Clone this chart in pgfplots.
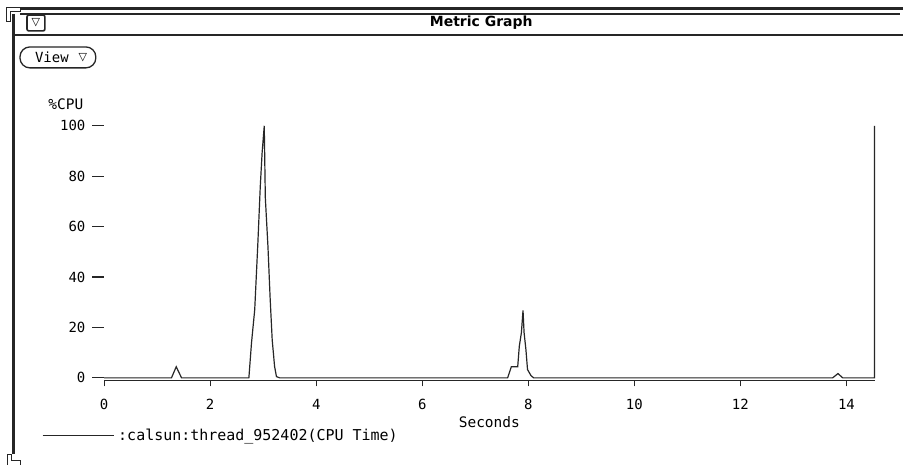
\documentclass[border=0pt]{standalone}
\usepackage{fontspec}
\usepackage{pgfplots}
\pgfplotsset{compat=1.18}
\newfontfamily\mono{DejaVu Sans Mono}
\newfontfamily\symf{DejaVu Sans}
\newfontfamily\titlef{DejaVu Sans}
\definecolor{Ink}{HTML}{262626}

\begin{document}
\begin{tikzpicture}[x=1pt,y=1pt]
\fill[white] (0,0) rectangle (904,466);
% window frame
\draw[line width=3pt,Ink] (20,457) -- (904,457);
\draw[line width=1.8pt,Ink] (20,451.7) -- (901,451.7);
\draw[line width=2pt,Ink] (15,430.5) -- (904,430.5);
\draw[line width=3pt,Ink] (13.2,452) -- (13.2,11);
\draw[line width=1pt,Ink,fill=white] (7,444) -- (7,458) -- (21,458) -- (21,454) -- (11,454) -- (11,444) -- cycle;
\draw[line width=1pt,Ink,fill=white] (21,0) -- (21,5) -- (12,5) -- (12,11) -- (8,11) -- (8,0);
% menu button
\draw[line width=1.6pt,Ink,fill=white,rounded corners=2pt] (27,451) rectangle (45,435);
\node[font=\symf\fontsize{11}{11}\selectfont,inner sep=0pt] at (36,443) {▽};
% view button
\draw[line width=1.3pt,Ink,rounded corners=10pt] (20,419) rectangle (96,398);
\node[font=\mono\fontsize{14}{14}\selectfont,inner sep=0pt] at (52,408.5) {View};
\node[font=\symf\fontsize{11}{11}\selectfont,inner sep=0pt] at (83,408.5) {▽};
% title
\node[font=\titlef\bfseries\fontsize{14}{14}\selectfont,inner sep=0pt] at (482,443.5) {Metric Graph};
% y label
\node[font=\mono\fontsize{14.5}{14.5}\selectfont,inner sep=0pt] at (66,362) {\%CPU};

\begin{axis}[at={(104.3pt,85pt)},anchor=south west,scale only axis,
  width=771.7pt,height=255pt,
  xmin=0,xmax=14.53,ymin=-1,ymax=100,
  axis x line*=bottom,axis y line*=left,
  y axis line style={draw=none},
  x axis line style={line width=1.3pt,Ink},
  xtick={0,2,...,14},ytick={0,20,...,100},
  tick align=outside,
  xtick style={line width=1.2pt,Ink,/pgfplots/major tick length=6pt},
  ytick style={line width=1.2pt,Ink,/pgfplots/major tick length=12pt},
  /pgf/number format/assume math mode=true,
  ticklabel style={font=\mono\fontsize{14}{14}\selectfont},
  xticklabel style={yshift=-11pt},
  yticklabel style={xshift=-11pt},
  xlabel={Seconds},
  xlabel style={at={(axis description cs:0.5,0)},anchor=center,yshift=-42pt,
    font=\mono\fontsize{14.5}{14.5}\selectfont},
  clip=false,
  legend style={draw=none,fill=none,inner sep=0pt,
    at={(axis description cs:-0.0807,-0.2157)},anchor=west,
    font=\mono\fontsize{15}{15}\selectfont},
  legend cell align=left,
  legend image code/.code={\draw[line width=1.2pt,Ink] (0pt,0pt) -- (71pt,0pt);}]
\addplot[line width=1.2pt,Ink,sharp plot] coordinates {
(0,0) (1.27,0) (1.36,4.4) (1.46,0)
(2.73,0) (2.78,14) (2.84,27) (2.90,53.7) (2.945,76) (2.98,89.4) (3.02,100)
(3.04,71.5) (3.09,52) (3.13,32) (3.17,15) (3.215,4.5) (3.25,0.5) (3.31,0)
(7.61,0) (7.68,4.4) (7.80,4.4) (7.83,12.5) (7.87,18) (7.90,26.8) (7.92,18)
(7.955,11.2) (7.985,3.3) (8.05,0.9) (8.10,0)
(13.74,0) (13.84,1.7) (13.93,0) (14.53,0) (14.53,100)};
\addlegendentry{\hspace{2pt}:calsun:thread\_952402(CPU Time)}
\end{axis}
\end{tikzpicture}
\end{document}
